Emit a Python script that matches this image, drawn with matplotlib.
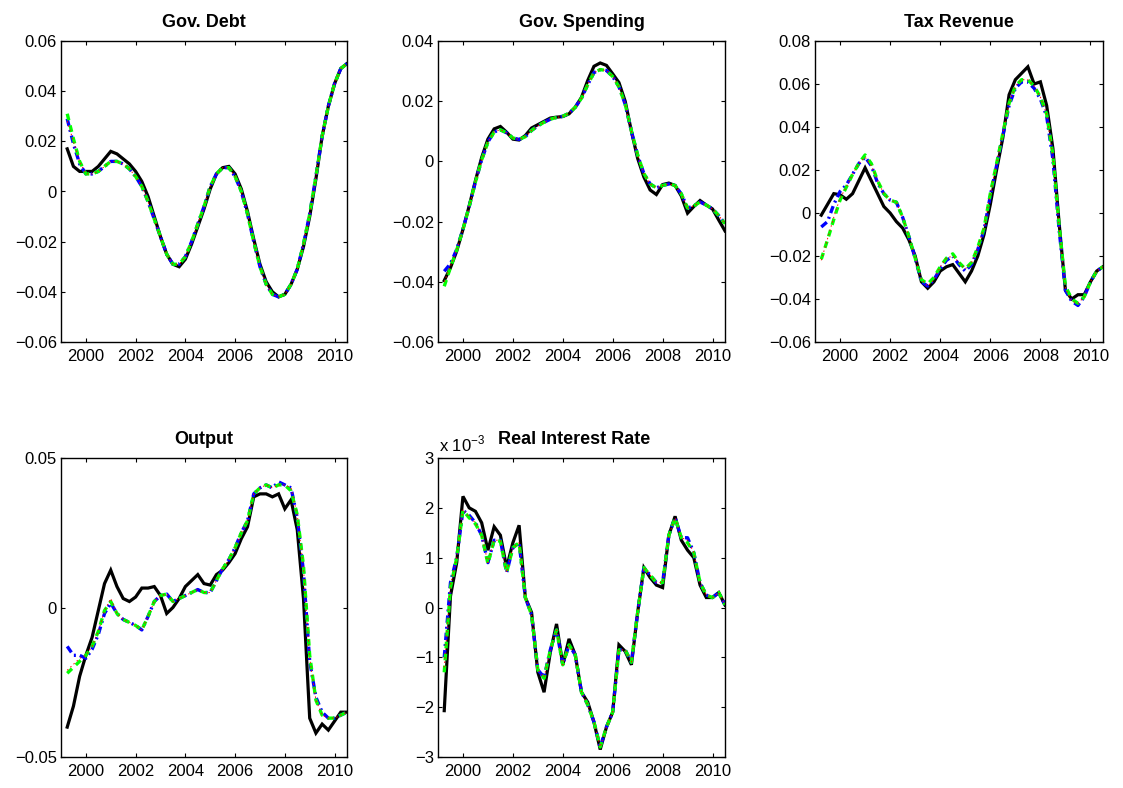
import numpy as np
import matplotlib.pyplot as plt
from matplotlib.ticker import FuncFormatter

plt.rcParams['font.family'] = ['Liberation Sans', 'DejaVu Sans']

# quarterly dates 1999Q2 .. 2010Q3
quarters = np.arange(1999.25, 2010.51, 0.25)

# Gov. Debt
debt_data = [0.017, 0.010, 0.008, 0.008, 0.008, 0.010, 0.013, 0.016, 0.015, 0.013,
             0.011, 0.008, 0.004, -0.002, -0.010, -0.018, -0.025, -0.029, -0.030, -0.027,
             -0.021, -0.014, -0.007, 0.001, 0.007, 0.0095, 0.010, 0.007, 0.001, -0.008,
             -0.019, -0.029, -0.036, -0.040, -0.042, -0.041, -0.037, -0.031, -0.022, -0.010,
             0.005, 0.022, 0.034, 0.043, 0.049, 0.051]
debt_m1 = [0.029, 0.019, 0.011, 0.007, 0.007, 0.008, 0.010, 0.012, 0.012, 0.011,
           0.009, 0.006, 0.002, -0.004, -0.011, -0.018, -0.025, -0.029, -0.029, -0.026,
           -0.020, -0.013, -0.006, 0.002, 0.007, 0.0095, 0.0095, 0.006, 0.000, -0.009,
           -0.020, -0.030, -0.037, -0.041, -0.042, -0.041, -0.037, -0.031, -0.021, -0.009,
           0.006, 0.022, 0.034, 0.043, 0.049, 0.051]
debt_m2 = [0.031, 0.021, 0.012, 0.007, 0.007, 0.008, 0.010, 0.012, 0.012, 0.011,
           0.009, 0.006, 0.002, -0.004, -0.011, -0.018, -0.025, -0.029, -0.029, -0.026,
           -0.020, -0.013, -0.006, 0.002, 0.007, 0.0095, 0.0095, 0.006, 0.000, -0.009,
           -0.020, -0.030, -0.037, -0.041, -0.042, -0.041, -0.037, -0.031, -0.021, -0.009,
           0.006, 0.022, 0.034, 0.043, 0.049, 0.051]
debt_m3 = [0.028, 0.020, 0.012, 0.007, 0.007, 0.008, 0.010, 0.012, 0.012, 0.011,
           0.009, 0.006, 0.002, -0.004, -0.011, -0.018, -0.025, -0.029, -0.029, -0.026,
           -0.020, -0.013, -0.006, 0.002, 0.007, 0.0095, 0.0095, 0.006, 0.000, -0.009,
           -0.020, -0.030, -0.037, -0.041, -0.042, -0.041, -0.037, -0.031, -0.021, -0.009,
           0.006, 0.022, 0.034, 0.043, 0.049, 0.051]

# Gov. Spending
spend_data = [-0.0396, -0.0353, -0.0298, -0.0226, -0.0148, -0.0064, 0.0013, 0.0074, 0.0108, 0.0116,
              0.0097, 0.0074, 0.0071, 0.0086, 0.0111, 0.0122, 0.0133, 0.0144, 0.0147, 0.0149,
              0.0158, 0.0180, 0.0213, 0.0269, 0.0316, 0.0327, 0.0319, 0.0291, 0.0262, 0.0200,
              0.0100, 0.0010, -0.0052, -0.0095, -0.0110, -0.0077, -0.0072, -0.0080, -0.0115, -0.0172,
              -0.0150, -0.0130, -0.0145, -0.0158, -0.0195, -0.0231]
spend_m1 = [-0.0365, -0.0340, -0.0292, -0.0225, -0.0150, -0.0068, 0.0005, 0.0065, 0.0098, 0.0105,
            0.0095, 0.0078, 0.0073, 0.0082, 0.0103, 0.0118, 0.0130, 0.0140, 0.0146, 0.0150,
            0.0160, 0.0180, 0.0210, 0.0255, 0.0295, 0.0305, 0.0302, 0.0282, 0.0248, 0.0190,
            0.0100, 0.0020, -0.0040, -0.0075, -0.0088, -0.0080, -0.0075, -0.0080, -0.0108, -0.0155,
            -0.0148, -0.0135, -0.0145, -0.0158, -0.0180, -0.0207]
spend_m2 = [-0.0415, -0.0352, -0.0295, -0.0226, -0.0150, -0.0068, 0.0005, 0.0064, 0.0097, 0.0105,
            0.0095, 0.0078, 0.0073, 0.0082, 0.0103, 0.0118, 0.0130, 0.0140, 0.0146, 0.0150,
            0.0160, 0.0180, 0.0210, 0.0255, 0.0295, 0.0305, 0.0302, 0.0282, 0.0248, 0.0190,
            0.0102, 0.0022, -0.0040, -0.0075, -0.0088, -0.0080, -0.0075, -0.0080, -0.0108, -0.0155,
            -0.0148, -0.0135, -0.0145, -0.0158, -0.0180, -0.0207]
spend_m3 = [-0.0400, -0.0348, -0.0294, -0.0226, -0.0150, -0.0068, 0.0005, 0.0065, 0.0098, 0.0105,
            0.0095, 0.0078, 0.0073, 0.0082, 0.0103, 0.0118, 0.0130, 0.0140, 0.0146, 0.0150,
            0.0160, 0.0180, 0.0210, 0.0255, 0.0295, 0.0305, 0.0302, 0.0282, 0.0248, 0.0190,
            0.0100, 0.0020, -0.0040, -0.0075, -0.0088, -0.0080, -0.0075, -0.0080, -0.0108, -0.0155,
            -0.0148, -0.0135, -0.0145, -0.0158, -0.0180, -0.0207]

# Tax Revenue
tax_data = [-0.001, 0.004, 0.009, 0.0085, 0.0064, 0.009, 0.015, 0.021, 0.015, 0.009,
            0.003, 0.000, -0.004, -0.007, -0.0125, -0.020, -0.032, -0.035, -0.032, -0.027,
            -0.025, -0.024, -0.028, -0.032, -0.027, -0.020, -0.010, 0.004, 0.020, 0.035,
            0.055, 0.062, 0.065, 0.068, 0.060, 0.061, 0.050, 0.030, -0.005, -0.036,
            -0.040, -0.038, -0.038, -0.032, -0.027, -0.025]
tax_m1 = [-0.0065, -0.004, 0.004, 0.010, 0.013, 0.018, 0.023, 0.026, 0.022, 0.014,
          0.009, 0.006, 0.005, -0.002, -0.011, -0.021, -0.032, -0.034, -0.031, -0.026,
          -0.022, -0.020, -0.024, -0.027, -0.024, -0.017, -0.008, 0.008, 0.022, 0.036,
          0.050, 0.058, 0.061, 0.061, 0.058, 0.053, 0.045, 0.025, -0.008, -0.036,
          -0.041, -0.043, -0.039, -0.032, -0.027, -0.025]
tax_m2 = [-0.0215, -0.0125, -0.003, 0.006, 0.012, 0.018, 0.023, 0.027, 0.023, 0.015,
          0.009, 0.006, 0.005, -0.002, -0.011, -0.021, -0.031, -0.033, -0.030, -0.025,
          -0.021, -0.019, -0.023, -0.026, -0.023, -0.016, -0.007, 0.009, 0.023, 0.037,
          0.051, 0.059, 0.062, 0.062, 0.059, 0.054, 0.046, 0.027, -0.006, -0.034,
          -0.040, -0.042, -0.039, -0.032, -0.027, -0.025]
tax_m3 = [-0.022, -0.012, -0.002, 0.007, 0.012, 0.018, 0.023, 0.026, 0.022, 0.015,
          0.009, 0.006, 0.005, -0.002, -0.011, -0.021, -0.031, -0.034, -0.031, -0.025,
          -0.021, -0.020, -0.023, -0.026, -0.023, -0.016, -0.007, 0.009, 0.023, 0.037,
          0.051, 0.059, 0.062, 0.062, 0.059, 0.054, 0.046, 0.026, -0.007, -0.035,
          -0.041, -0.042, -0.039, -0.032, -0.027, -0.025]

# Output
out_data = [-0.040, -0.033, -0.023, -0.016, -0.010, -0.001, 0.008, 0.0125, 0.007, 0.003,
            0.002, 0.0035, 0.0065, 0.0065, 0.007, 0.004, -0.002, 0.000, 0.003, 0.007,
            0.009, 0.011, 0.008, 0.0075, 0.011, 0.0125, 0.015, 0.018, 0.023, 0.027,
            0.037, 0.038, 0.038, 0.037, 0.038, 0.033, 0.036, 0.026, 0.003, -0.037,
            -0.042, -0.039, -0.041, -0.038, -0.035, -0.035]
out_m1 = [-0.013, -0.016, -0.016, -0.017, -0.014, -0.009, -0.002, 0.0015, -0.002, -0.004,
          -0.005, -0.006, -0.0075, -0.003, 0.002, 0.004, 0.0045, 0.002, 0.003, 0.004,
          0.005, 0.006, 0.005, 0.005, 0.009, 0.013, 0.016, 0.020, 0.025, 0.029,
          0.038, 0.040, 0.041, 0.040, 0.042, 0.041, 0.040, 0.030, 0.012, -0.018,
          -0.030, -0.035, -0.037, -0.037, -0.036, -0.035]
out_m2 = [-0.022, -0.020, -0.018, -0.016, -0.013, -0.008, -0.001, 0.002, -0.002, -0.004,
          -0.005, -0.006, -0.0075, -0.003, 0.002, 0.004, 0.0045, 0.002, 0.003, 0.004,
          0.005, 0.006, 0.005, 0.005, 0.009, 0.013, 0.016, 0.020, 0.025, 0.029,
          0.038, 0.040, 0.041, 0.040, 0.041, 0.041, 0.039, 0.031, 0.014, -0.016,
          -0.031, -0.036, -0.037, -0.037, -0.036, -0.035]
out_m3 = [-0.021, -0.019, -0.017, -0.016, -0.013, -0.008, -0.001, 0.003, -0.002, -0.004,
          -0.005, -0.006, -0.0075, -0.003, 0.002, 0.004, 0.0045, 0.002, 0.003, 0.004,
          0.005, 0.006, 0.005, 0.005, 0.009, 0.013, 0.016, 0.020, 0.025, 0.029,
          0.038, 0.040, 0.041, 0.040, 0.041, 0.041, 0.040, 0.031, 0.013, -0.017,
          -0.031, -0.036, -0.037, -0.037, -0.036, -0.035]

# Real Interest Rate, in units of 1e-3
rate_data = [-2.07, 0.23, 0.90, 2.23, 2.00, 1.93, 1.70, 1.15, 1.62, 1.45,
             0.80, 1.30, 1.65, 0.20, -0.10, -1.30, -1.70, -0.90, -0.33, -1.15,
             -0.63, -0.95, -1.70, -1.90, -2.30, -2.85, -2.40, -2.10, -0.75, -0.88,
             -1.15, -0.10, 0.80, 0.60, 0.45, 0.40, 1.45, 1.83, 1.35, 1.15,
             1.00, 0.45, 0.20, 0.20, 0.30, 0.05]
rate_m1 = [-1.00, 0.50, 1.00, 1.95, 1.85, 1.70, 1.45, 0.90, 1.35, 1.35,
           0.70, 1.20, 1.30, 0.20, -0.15, -1.25, -1.40, -0.85, -0.45, -1.15,
           -0.75, -0.95, -1.70, -1.95, -2.30, -2.80, -2.40, -2.10, -0.85, -0.85,
           -1.10, -0.10, 0.80, 0.65, 0.50, 0.50, 1.45, 1.80, 1.40, 1.40,
           1.10, 0.50, 0.25, 0.20, 0.30, 0.05]
rate_m2 = [-1.30, 0.40, 1.00, 1.95, 1.80, 1.68, 1.45, 0.88, 1.35, 1.33,
           0.70, 1.20, 1.30, 0.20, -0.15, -1.25, -1.42, -0.85, -0.45, -1.15,
           -0.75, -0.95, -1.70, -1.95, -2.30, -2.80, -2.40, -2.10, -0.85, -0.85,
           -1.10, -0.10, 0.80, 0.65, 0.50, 0.50, 1.45, 1.80, 1.40, 1.30,
           1.10, 0.50, 0.25, 0.20, 0.30, 0.05]
rate_m3 = [-1.20, 0.45, 1.00, 1.97, 1.82, 1.70, 1.45, 0.90, 1.35, 1.35,
           0.70, 1.20, 1.30, 0.20, -0.15, -1.25, -1.40, -0.85, -0.45, -1.15,
           -0.75, -0.95, -1.70, -1.95, -2.30, -2.80, -2.40, -2.10, -0.85, -0.85,
           -1.10, -0.10, 0.80, 0.65, 0.50, 0.50, 1.45, 1.80, 1.40, 1.35,
           1.10, 0.50, 0.25, 0.20, 0.30, 0.05]

panels = [
    ('Gov. Debt', debt_data, debt_m1, debt_m2, debt_m3,
     (-0.06, 0.06), np.arange(-0.06, 0.061, 0.02), [61, 41, 286, 301]),
    ('Gov. Spending', spend_data, spend_m1, spend_m2, spend_m3,
     (-0.06, 0.04), np.arange(-0.06, 0.041, 0.02), [438, 41, 287, 301]),
    ('Tax Revenue', tax_data, tax_m1, tax_m2, tax_m3,
     (-0.06, 0.08), np.arange(-0.06, 0.081, 0.02), [815, 41, 288, 301]),
    ('Output', out_data, out_m1, out_m2, out_m3,
     (-0.05, 0.05), [-0.05, 0, 0.05], [61, 458, 286, 299]),
    ('Real Interest Rate', rate_data, rate_m1, rate_m2, rate_m3,
     (-3, 3), np.arange(-3, 3.1, 1), [438, 458, 287, 299]),
]

W, H = 1123, 788
fig = plt.figure(figsize=(W / 100, H / 100), dpi=100)


def fmt(v, pos):
    if abs(v) < 1e-9:
        return '0'
    return ('%g' % round(v, 6)).replace('-', '\u2212')


for title, black, m1, m2, m3, ylim, yticks, (px, py, pw, ph) in panels:
    ax = fig.add_axes([px / W, 1 - (py + ph) / H, pw / W, ph / H])
    ax.plot(quarters, black, color='black', lw=2.3, solid_joinstyle='miter')
    ax.plot(quarters, m1, color='blue', lw=2.4, dashes=(2.2, 1.2, 0.6, 1.2))
    ax.plot(quarters, m2, color='#00ff00', lw=2.4, dashes=(2.0, 1.6))
    ax.plot(quarters, m3, color='red', lw=0.7, dashes=(1.5, 3.0))
    ax.set_xlim(1999.0, 2010.5)
    ax.set_ylim(*ylim)
    ax.set_xticks(range(2000, 2011, 2))
    ax.set_yticks(yticks)
    ax.yaxis.set_major_formatter(FuncFormatter(fmt))
    ax.tick_params(direction='in', top=True, right=True, length=3, width=0.8,
                   labelsize=12, pad=3)
    ax.tick_params(axis='x', pad=5)
    for sp in ax.spines.values():
        sp.set_linewidth(1.0)
    if title == 'Real Interest Rate':
        ax.set_title(title, fontsize=13, fontweight='bold', pad=10, x=0.476)
        ax.text(0.005, 1.012, 'x 10$^{\\mathregular{\u22123}}$', transform=ax.transAxes,
                fontsize=12, ha='left', va='bottom')
    else:
        ax.set_title(title, fontsize=13, fontweight='bold', pad=10)

fig.savefig('out.png', dpi=100)
